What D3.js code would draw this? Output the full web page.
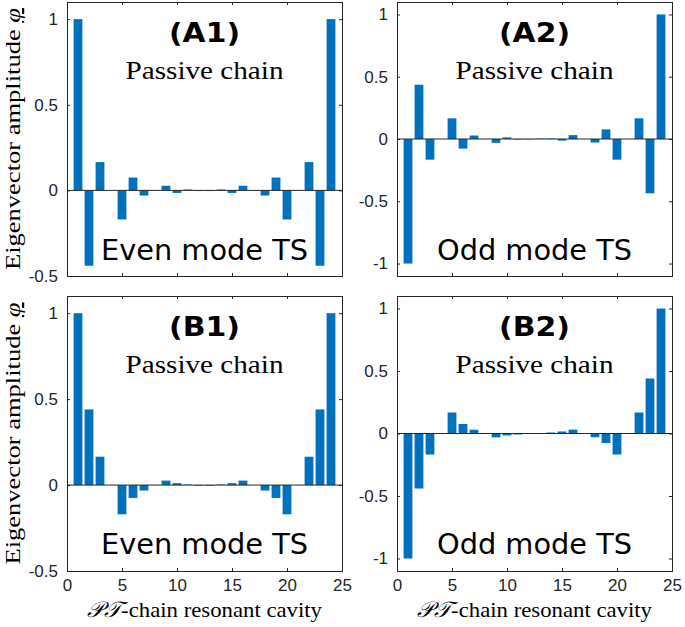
<!DOCTYPE html>
<html><head><meta charset="utf-8">
<script src="https://cdn.jsdelivr.net/npm/d3@7"></script>
<style>body{margin:0;background:#fff}svg{display:block}</style>
</head><body>
<svg id="c" width="685" height="627"></svg>
<script>
// ---- data ----
const cavities = d3.range(1, 25);
const xTicks = [0, 5, 10, 15, 20, 25];
const yTicksLeft = [-0.5, 0, 0.5, 1];
const yTicksRight = [-1, -0.5, 0, 0.5, 1];
const panelLabels = ["(A1)", "(A2)", "(B1)", "(B2)"];
const modeLabels = ["Even mode TS", "Odd mode TS", "Even mode TS", "Odd mode TS"];
const valuesA1 = [1, -0.44, 0.165, 0, -0.17, 0.075, -0.03, 0, 0.027, -0.015, 0.005, -0.004, -0.004, 0.005, -0.015, 0.027, 0, -0.03, 0.075, -0.17, 0, 0.165, -0.44, 1];
const valuesA2 = [-1, 0.436, -0.166, 0, 0.166, -0.077, 0.028, 0, -0.031, 0.013, -0.004, -0.003, 0.003, 0.004, -0.013, 0.031, 0, -0.028, 0.077, -0.166, 0, 0.166, -0.436, 1];
const valuesB1 = [1, 0.44, 0.165, 0, -0.17, -0.075, -0.032, 0, 0.026, 0.011, 0.003, -0.004, -0.004, 0.003, 0.011, 0.026, 0, -0.032, -0.075, -0.17, 0, 0.165, 0.44, 1];
const valuesB2 = [-1, -0.44, -0.168, 0, 0.168, 0.076, 0.03, 0, -0.031, -0.016, -0.008, -0.004, 0.004, 0.008, 0.016, 0.031, 0, -0.03, -0.076, -0.168, 0, 0.168, 0.44, 1];

const svg = d3.select("#c");
const panels = [
  {vals: valuesA1, x0: 67, x1: 342, y0: 2, y1: 276, dom: [-0.5, 1.1], yt: yTicksLeft, xl: false},
  {vals: valuesA2, x0: 397, x1: 672, y0: 2, y1: 276, dom: [-1.1, 1.1], yt: yTicksRight, xl: false},
  {vals: valuesB1, x0: 67, x1: 342, y0: 296, y1: 571, dom: [-0.5, 1.1], yt: yTicksLeft, xl: true},
  {vals: valuesB2, x0: 397, x1: 672, y0: 296, y1: 571, dom: [-1.1, 1.1], yt: yTicksRight, xl: true}
];
const axisColor = "#262626";
const barColor = "#0072BD";

panels.forEach((p, i) => {
  const x = d3.scaleLinear().domain([0, 25]).range([p.x0, p.x1]);
  const y = d3.scaleLinear().domain(p.dom).range([p.y1, p.y0]);
  const g = svg.append("g");
  const bw = (x(1) - x(0)) * 0.8;
  g.selectAll("rect.bar").data(p.vals.map((v, k) => ({c: cavities[k], v})).filter(d => d.v !== 0))
    .join("rect").attr("class", "bar")
    .attr("x", d => x(d.c) - bw / 2).attr("width", bw)
    .attr("y", d => Math.min(y(d.v), y(0))).attr("height", d => Math.abs(y(d.v) - y(0)))
    .attr("fill", barColor);
  g.append("line").attr("x1", p.x0).attr("x2", p.x1).attr("y1", y(0)).attr("y2", y(0))
    .attr("stroke", axisColor).attr("stroke-width", 1);
  const fmt = d => (d === 0 ? "0" : String(d));
  const axL = g.append("g").attr("transform", `translate(${p.x0},0)`)
    .call(d3.axisLeft(y).tickValues(p.yt).tickSize(-3).tickPadding(9).tickFormat(fmt));
  const axR = g.append("g").attr("transform", `translate(${p.x1},0)`)
    .call(d3.axisRight(y).tickValues(p.yt).tickSize(-3).tickFormat(""));
  const axB = g.append("g").attr("transform", `translate(0,${p.y1})`)
    .call(d3.axisBottom(x).tickValues(xTicks).tickSize(-3).tickPadding(8).tickFormat(p.xl ? d3.format("d") : ""));
  const axT = g.append("g").attr("transform", `translate(0,${p.y0})`)
    .call(d3.axisTop(x).tickValues(xTicks).tickSize(-3).tickFormat(""));
  [axL, axR, axB, axT].forEach(a => {
    a.attr("font-size", 17).attr("font-family", "Liberation Sans, Arial, sans-serif");
    a.select(".domain").attr("stroke", axisColor);
    a.selectAll(".tick line").attr("stroke", axisColor);
    a.selectAll("text").attr("fill", "#262626");
  });
  const cx = (p.x0 + p.x1) / 2;
  g.append("text").attr("x", cx).attr("y", p.y0 + 40).attr("text-anchor", "middle")
    .attr("font-family", "DejaVu Sans, Verdana, sans-serif").attr("font-weight", "bold").attr("font-size", 27)
    .attr("textLength", 71).attr("lengthAdjust", "spacingAndGlyphs")
    .text(panelLabels[i]);
  g.append("text").attr("x", cx).attr("y", p.y0 + 77).attr("text-anchor", "middle")
    .attr("font-family", "Liberation Serif, Times New Roman, serif").attr("font-size", 25)
    .attr("textLength", 158).attr("lengthAdjust", "spacingAndGlyphs")
    .text("Passive chain");
  g.append("text").attr("x", cx).attr("y", p.y0 + 258).attr("text-anchor", "middle")
    .attr("font-family", "DejaVu Sans, Verdana, sans-serif").attr("font-size", 28)
    .attr("textLength", i % 2 === 0 ? 207 : 195).attr("lengthAdjust", "spacingAndGlyphs")
    .text(modeLabels[i]);
  if (p.xl) {
    const t = g.append("text").attr("x", cx).attr("y", 617).attr("text-anchor", "middle")
      .attr("font-family", "Liberation Serif, Times New Roman, serif").attr("font-size", 22)
      .attr("textLength", 235).attr("lengthAdjust", "spacingAndGlyphs");
    t.append("tspan").attr("font-family", "DejaVu Serif, serif").attr("font-style", "italic").text("𝒫𝒯");
    t.append("tspan").text("-chain resonant cavity");
  }
  if (i % 2 === 0) {
    const cy = (p.y0 + p.y1) / 2;
    const t = g.append("text").attr("transform", `translate(20,${cy}) rotate(-90)`).attr("text-anchor", "middle")
      .attr("font-family", "Liberation Serif, Times New Roman, serif").attr("font-size", 22)
      .attr("textLength", 262).attr("lengthAdjust", "spacingAndGlyphs");
    t.append("tspan").text("Eigenvector amplitude ");
    t.append("tspan").attr("font-style", "italic").attr("text-decoration", "underline").text("φ");
  }
});
</script>
</body></html>
